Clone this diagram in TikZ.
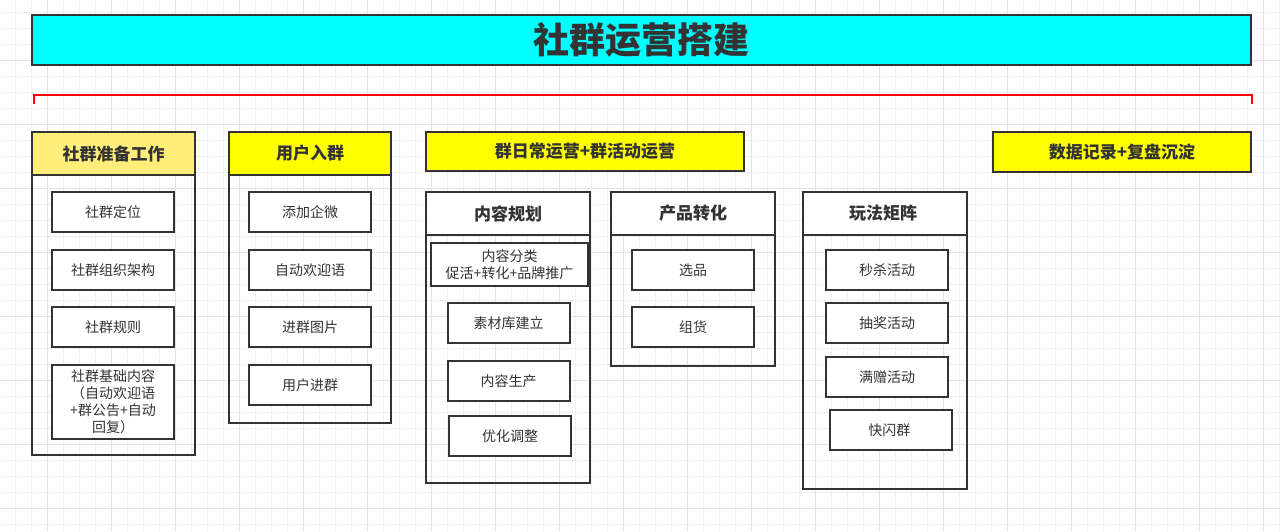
\documentclass[tikz,border=0pt]{standalone}
\usepackage{fontspec}
\usepackage{tikz}
\newfontfamily\cjk{Noto Sans CJK SC}
\definecolor{ink}{HTML}{333333}
\definecolor{titlecyan}{HTML}{00FFFF}
\definecolor{headyellow}{HTML}{FFFF00}
\definecolor{paleyellow}{HTML}{FFEF7A}
\definecolor{gridminor}{HTML}{F0F0F0}
\definecolor{gridmajor}{HTML}{E3E3E3}
\tikzset{
  box/.style={draw=ink,line width=2pt,inner sep=0pt,outer sep=0pt,
    text=ink,align=center,font=\cjk\fontsize{14}{17}\selectfont},
  item/.style={box,fill=white,minimum width=122,minimum height=40},
  head/.style={box,font=\cjk\bfseries\fontsize{17}{20}\selectfont},
  body/.style={box,anchor=north},
}
\begin{document}
\begin{tikzpicture}[x=1pt,y=-1pt]
    \useasboundingbox (0,0) rectangle (1280,531);
    \fill[white] (0,0) rectangle (1280,531);
    \foreach \i in {0,...,79}
        \draw[gridminor,line width=1pt] ({15+16*\i},0) -- ({15+16*\i},531);
    \foreach \j in {0,...,32}
        \draw[gridminor,line width=1pt] (0,{12+16*\j}) -- (1280,{12+16*\j});
    \foreach \i in {0,...,19}
        \draw[gridmajor,line width=1pt] ({47+64*\i},0) -- ({47+64*\i},531);
    \foreach \j in {0,...,7}
        \draw[gridmajor,line width=1pt] (0,{60+64*\j}) -- (1280,{60+64*\j});

    \node[box,fill=titlecyan,minimum width=1219,minimum height=50,
        font=\cjk\bfseries\fontsize{36}{40}\selectfont] (title) at (641.5,40) {社群运营搭建};

    \coordinate (bl) at (34,104);
    \coordinate (br) at (1252,104);
    \draw[red,line width=2pt] (bl) -- ++(0,-9) -| (br);

    \foreach \n/\x/\y/\w/\h/\c/\t in{
        h1/113.5/153.5/163/43/paleyellow/{社群准备工作},
        h2/310/153.5/162/43/headyellow/{用户入群},
        h3/585/151.5/318/39/headyellow/{群日常运营+群活动运营},
        h4/1122/152/258/40/headyellow/{数据记录+复盘沉淀},
        s1/508/213.5/164/43/white/{内容规划},
        s2/693/213.5/164/43/white/{产品转化},
        s3/885/213.5/164/43/white/{玩法矩阵}
        }
        {
            \node[head,fill=\c,minimum width=\w,minimum height=\h] (\n) at (\x,\y) {\t};
        }

    \foreach \n/\p/\w/\h in{
        b1/h1/163/280,
        b2/h2/162/248,
        c1/s1/164/248,
        c2/s2/164/131,
        c3/s3/164/254
        }
        {
            \node[body,minimum width=\w,minimum height=\h] (\n) at (\p.south) {};
        }

    \foreach \n/\x/\y/\t in{
        a1/113/212/{社群定位},
        a2/113/270/{社群组织架构},
        a3/113/327/{社群规则},
        u1/310/212/{添加企微},
        u2/310/270/{自动欢迎语},
        u3/310/327/{进群图片},
        u4/310/385/{用户进群},
        k2/508.5/323/{素材库建立},
        k3/508.5/381/{内容生产},
        k4/510/436/{优化调整},
        p1/693/270/{选品},
        p2/693/327/{组货},
        w1/887/270/{秒杀活动},
        w2/887/323/{抽奖活动},
        w3/887/377/{满赠活动},
        w4/891/430/{快闪群}
        }
        {
            \node[item] (\n) at (\x,\y) {\t};
        }
    \node[item,minimum height=74] (a4) at (113,402) {社群基础内容\\（自动欢迎语\\+群公告+自动\\回复）};
    \node[item,minimum width=157,minimum height=43] (k1) at (509.5,264.5) {内容分类\\促活+转化+品牌推广};
\end{tikzpicture}
\end{document}
